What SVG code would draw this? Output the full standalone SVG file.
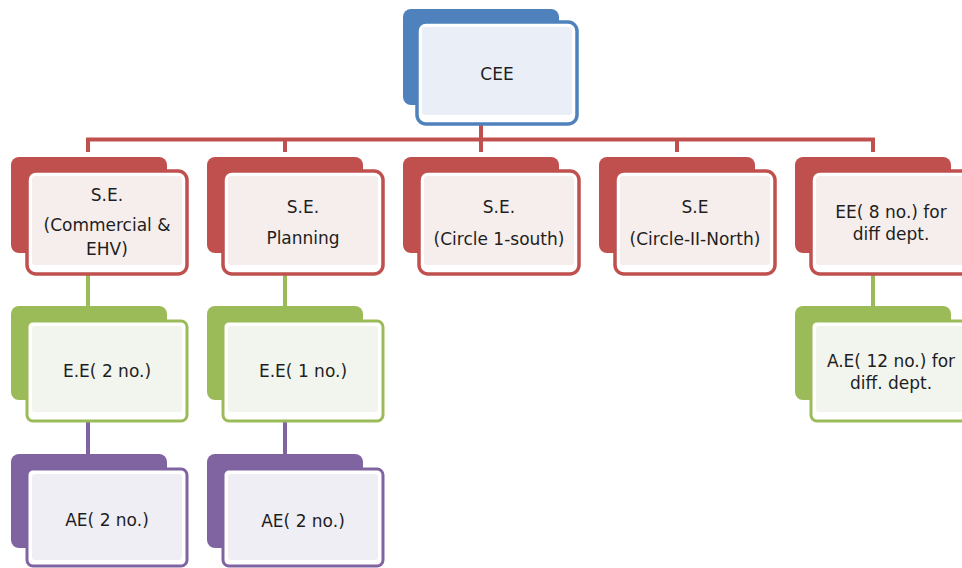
<svg xmlns="http://www.w3.org/2000/svg" width="962" height="568" viewBox="0 0 962 568">
<style>
.t{font-family:"DejaVu Sans","Open Sans",sans-serif;font-size:17px;fill:#1e1e1e;text-anchor:middle}
.bb{fill:#4F81BD}.bf{fill:#fff;stroke:#4F81BD;stroke-width:3.5}.bi{fill:#EAEFF7}
.rb{fill:#C0504D}.rf{fill:#fff;stroke:#C0504D;stroke-width:3.5}.ri{fill:#F6EDED}
.gb{fill:#9BBB59}.gf{fill:#fff;stroke:#9BBB59;stroke-width:3}.gi{fill:#F2F5EE}
.pb{fill:#8064A2}.pf{fill:#fff;stroke:#8064A2;stroke-width:3}.pi{fill:#F0EEF5}
.cr{stroke:#C0504D;stroke-width:4;fill:none}
.cg{stroke:#9BBB59;stroke-width:4;fill:none}
.cp{stroke:#8064A2;stroke-width:4;fill:none}
</style>
<rect width="962" height="568" fill="#fff"/>
<g id="connectors">
<line class="cr" x1="86" y1="139.5" x2="875" y2="139.5"/>
<line class="cr" x1="481" y1="125" x2="481" y2="152"/>
<line class="cr" x1="88" y1="139.5" x2="88" y2="152"/>
<line class="cr" x1="285" y1="139.5" x2="285" y2="152"/>
<line class="cr" x1="677" y1="139.5" x2="677" y2="152"/>
<line class="cr" x1="873" y1="139.5" x2="873" y2="152"/>
<line class="cg" x1="88" y1="275" x2="88" y2="306"/>
<line class="cg" x1="285" y1="275" x2="285" y2="306"/>
<line class="cg" x1="873" y1="275" x2="873" y2="306"/>
<line class="cp" x1="88" y1="422" x2="88" y2="454"/>
<line class="cp" x1="285" y1="422" x2="285" y2="454"/>
</g>
<g id="cee">
<rect class="bb" x="403" y="9" width="156" height="96" rx="8"/>
<rect class="bf" x="417" y="22" width="160" height="102" rx="9"/>
<rect class="bi" x="422" y="27" width="150" height="88" rx="3"/>
<text class="t" x="497" y="80">CEE</text>
</g>
<g id="se1">
<rect class="rb" x="11" y="157" width="156" height="96" rx="8"/>
<rect class="rf" x="27" y="171" width="160" height="103" rx="9"/>
<rect class="ri" x="32" y="176" width="150" height="89" rx="3"/>
<text class="t" x="107" y="201">S.E.</text>
<text class="t" x="107" y="231">(Commercial &amp;</text>
<text class="t" x="107" y="255">EHV)</text>
</g>
<g id="se2">
<rect class="rb" x="207" y="157" width="156" height="96" rx="8"/>
<rect class="rf" x="223" y="171" width="160" height="103" rx="9"/>
<rect class="ri" x="228" y="176" width="150" height="89" rx="3"/>
<text class="t" x="303" y="213">S.E.</text>
<text class="t" x="303" y="244">Planning</text>
</g>
<g id="se3">
<rect class="rb" x="403" y="157" width="156" height="96" rx="8"/>
<rect class="rf" x="419" y="171" width="160" height="103" rx="9"/>
<rect class="ri" x="424" y="176" width="150" height="89" rx="3"/>
<text class="t" x="499" y="213">S.E.</text>
<text class="t" x="499" y="245">(Circle 1-south)</text>
</g>
<g id="se4">
<rect class="rb" x="599" y="157" width="156" height="96" rx="8"/>
<rect class="rf" x="615" y="171" width="160" height="103" rx="9"/>
<rect class="ri" x="620" y="176" width="150" height="89" rx="3"/>
<text class="t" x="695" y="213">S.E</text>
<text class="t" x="695" y="245">(Circle-II-North)</text>
</g>
<g id="ee8">
<rect class="rb" x="795" y="157" width="156" height="96" rx="8"/>
<rect class="rf" x="811" y="171" width="160" height="103" rx="9"/>
<rect class="ri" x="816" y="176" width="150" height="89" rx="3"/>
<text class="t" x="891" y="218">EE( 8 no.) for</text>
<text class="t" x="891" y="240">diff dept.</text>
</g>
<g id="ee2">
<rect class="gb" x="11" y="306" width="156" height="94" rx="8"/>
<rect class="gf" x="27" y="321" width="160" height="100" rx="6"/>
<rect class="gi" x="32" y="326" width="150" height="86" rx="3"/>
<text class="t" x="107" y="377">E.E( 2 no.)</text>
</g>
<g id="ee1">
<rect class="gb" x="207" y="306" width="156" height="94" rx="8"/>
<rect class="gf" x="223" y="321" width="160" height="100" rx="6"/>
<rect class="gi" x="228" y="326" width="150" height="86" rx="3"/>
<text class="t" x="303" y="377">E.E( 1 no.)</text>
</g>
<g id="ae12">
<rect class="gb" x="795" y="306" width="156" height="94" rx="8"/>
<rect class="gf" x="811" y="321" width="160" height="100" rx="6"/>
<rect class="gi" x="816" y="326" width="150" height="86" rx="3"/>
<text class="t" x="891" y="367">A.E( 12 no.) for</text>
<text class="t" x="891" y="389">diff. dept.</text>
</g>
<g id="ae2a">
<rect class="pb" x="11" y="454" width="156" height="94" rx="8"/>
<rect class="pf" x="27" y="469" width="160" height="97" rx="6"/>
<rect class="pi" x="32" y="474" width="150" height="86" rx="3"/>
<text class="t" x="107" y="526">AE( 2 no.)</text>
</g>
<g id="ae2b">
<rect class="pb" x="207" y="454" width="156" height="94" rx="8"/>
<rect class="pf" x="223" y="469" width="160" height="97" rx="6"/>
<rect class="pi" x="228" y="474" width="150" height="86" rx="3"/>
<text class="t" x="303" y="527">AE( 2 no.)</text>
</g>
</svg>
